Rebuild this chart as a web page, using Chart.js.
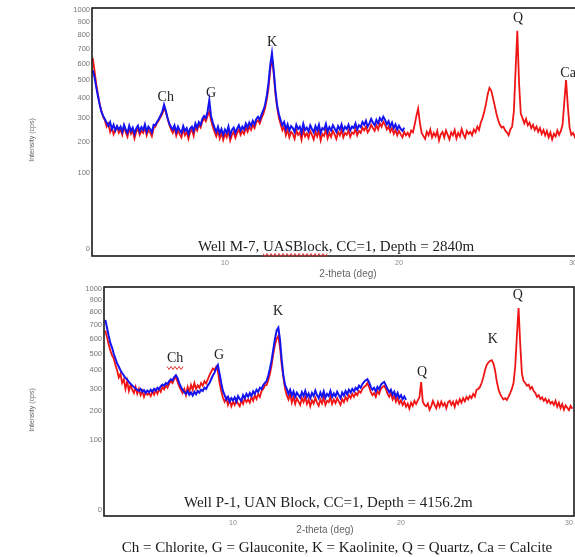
<!DOCTYPE html>
<html>
<head>
<meta charset="utf-8">
<script src="https://cdn.jsdelivr.net/npm/chart.js@4.4.1/dist/chart.umd.min.js"></script>
<style>
  html, body { margin: 0; padding: 0; background: #fff; overflow: hidden; width: 575px; height: 557px; }
  canvas { position: absolute; left: 0; }
  #top { top: 0; }
  #bottom { top: 280px; }
</style>
</head>
<body>
<canvas id="top" width="600" height="280"></canvas>
<canvas id="bottom" width="600" height="277"></canvas>
<script>
// scan grid (2-theta, deg)
const scanStart = 2.4;
const scanStep = 0.1;

const yTicks = [0, 100, 200, 300, 400, 500, 600, 700, 800, 900, 1000];
const xTicks = [10, 20, 30];

// Well M-7 : red = full scan 2.4..30.2, blue = clay fraction 2.4..20.3
const m7Red = [
  640, 560, 480, 420, 370, 335,
  305, 290, 262, 275, 240, 258, 230, 248, 262, 236,
  250, 228, 262, 238, 220, 255, 232, 246, 214, 240,
  252, 228, 244, 236, 260, 226, 248, 238, 222, 256,
  262, 278, 290, 305, 320, 345, 330, 300, 270, 250,
  236, 258, 224, 246, 230, 218, 252, 226, 240, 212,
  238, 250, 224, 262, 246, 270, 258, 284, 300, 286,
  310, 330, 290, 262, 240, 222, 246, 214, 236, 208,
  232, 218, 244, 206, 228, 240, 216, 236, 250, 228,
  244, 232, 258, 240, 262, 248, 270, 256, 282, 290,
  276, 300, 318, 345, 390, 450, 560, 640, 540, 420,
  350, 300, 272, 246, 262, 226, 250, 218, 240, 232,
  212, 246, 228, 238, 208, 250, 222, 234, 216, 244,
  228, 210, 240, 222, 246, 206, 232, 224, 250, 214,
  236, 220, 244, 230, 212, 240, 226, 248, 218, 236,
  228, 246, 220, 238, 232, 252, 226, 244, 236, 258,
  246, 262, 238, 250, 270, 256, 244, 268, 250, 276,
  262, 284, 270, 250, 262, 240, 256, 232, 248, 226,
  244, 230, 218, 240, 226, 236, 222, 246, 238, 270,
  310, 345, 280, 236, 224, 212, 240, 226, 250, 218,
  236, 222, 244, 206, 230, 240, 218, 246, 228, 210,
  238, 226, 248, 214, 236, 222, 252, 230, 216, 244,
  232, 240, 226, 250, 238, 262, 248, 280, 300, 330,
  370, 420, 455, 440, 400, 360, 320, 290, 270, 258,
  262, 246, 238, 226, 250, 262, 330, 560, 835, 480,
  320, 300, 276, 296, 268, 280, 256, 270, 248, 262,
  240, 256, 232, 248, 226, 244, 218, 238, 210, 232,
  222, 246, 228, 244, 270, 380, 500, 360, 260, 228,
  236, 220, 240
];
const m7Blue = [
  560, 520, 460, 410, 365, 330,
  310, 295, 280, 266, 282, 252, 270, 246, 264, 250,
  262, 240, 270, 250, 236, 266, 244, 258, 232, 254,
  266, 242, 260, 248, 272, 240, 262, 252, 238, 270,
  268, 284, 296, 312, 330, 365, 335, 300, 276, 260,
  250, 268, 240, 262, 246, 236, 264, 244, 256, 232,
  254, 262, 244, 276, 258, 282, 270, 296, 310, 300,
  330, 388, 310, 280, 258, 240, 262, 234, 252, 228,
  250, 236, 262, 226, 248, 258, 236, 254, 268, 246,
  262, 250, 276, 258, 280, 266, 288, 272, 296, 306,
  292, 316, 336, 362, 410, 480, 590, 672, 560, 440,
  360, 318, 290, 268, 282, 250, 272, 246, 264, 256,
  240, 270, 252, 262, 236, 274, 248, 258, 242, 268,
  252, 238, 264, 246, 270, 236, 256, 250, 274, 240,
  260, 246, 268, 254, 240, 264, 250, 272, 244, 262,
  252, 270, 246, 262, 256, 276, 250, 268, 260, 282,
  270, 288, 262, 276, 296, 280, 268, 292, 276, 300,
  288, 306, 292, 272, 286, 262, 280, 256, 272, 250,
  266, 252, 244, 258
];

// Well P-1
const p1Red = [
  660, 610, 560, 520, 490, 470,
  430, 400, 360, 380, 330, 350, 300, 340, 290, 320,
  296, 280, 310, 276, 300, 270, 290, 262, 284, 272,
  280, 266, 288, 272, 294, 276, 300, 286, 310, 298,
  318, 306, 326, 340, 330, 352, 360, 336, 312, 296,
  280, 300, 270, 310, 286, 320, 296, 330, 300, 318,
  306, 330, 316, 340, 328, 350, 372, 390, 410, 400,
  420, 395, 330, 290, 258, 240, 256, 226, 248, 220,
  240, 226, 250, 232, 220, 246, 230, 256, 238, 250,
  236, 262, 244, 270, 252, 276, 262, 290, 300, 318,
  320, 345, 380, 430, 500, 560, 600, 620, 540, 430,
  360, 300, 270, 250, 276, 236, 262, 230, 256, 240,
  226, 256, 238, 262, 230, 250, 220, 246, 232, 258,
  236, 222, 250, 232, 260, 226, 244, 238, 262, 230,
  250, 234, 256, 240, 226, 252, 238, 262, 246, 270,
  256, 276, 262, 280, 270, 290, 282, 300, 310, 316,
  330, 310, 286, 270, 280, 262, 290, 276, 300, 310,
  316, 300, 276, 262, 280, 250, 266, 240, 258, 232,
  246, 226, 240, 218, 232, 210, 236, 222, 244, 230,
  246, 260, 335, 240, 226, 220, 232, 206, 220, 244,
  226, 212, 238, 218, 240, 222, 234, 212, 238, 244,
  226, 240, 218, 244, 230, 252, 236, 256, 242, 262,
  250, 266, 256, 276, 264, 296, 300, 310, 330, 360,
  400, 430, 445, 455, 460, 440, 400, 340, 300, 276,
  262, 250, 256, 248, 262, 280, 300, 330, 420, 620,
  835, 560, 380, 340, 330, 316, 322, 300, 310, 290,
  280, 262, 270, 252, 260, 244, 254, 236, 248, 232,
  240, 226, 244, 218, 236, 212, 230, 206, 224, 214,
  204, 222, 210
];
const p1Blue = [
  740, 680, 620, 570, 540, 500,
  470, 440, 420, 400, 384, 370, 356, 348, 336, 326,
  318, 310, 302, 296, 290, 300, 286, 294, 280, 292,
  284, 296, 286, 300, 292, 306, 298, 314, 322, 316,
  330, 324, 340, 350, 344, 362, 372, 356, 330, 310,
  296, 284, 276, 290, 272, 282, 268, 286, 274, 290,
  282, 296, 290, 306, 300, 318, 330, 350, 370, 386,
  410, 430, 380, 330, 290, 270, 250, 262, 240, 256,
  246, 260, 240, 266, 252, 244, 270, 256, 276, 262,
  280, 266, 288, 276, 296, 286, 306, 300, 320, 330,
  340, 370, 410, 460, 530, 600, 660, 680, 590, 460,
  370, 320, 300, 276, 296, 268, 288, 262, 282, 270,
  258, 284, 266, 290, 262, 278, 256, 280, 266, 292,
  270, 256, 282, 262, 288, 258, 276, 266, 290, 262,
  278, 264, 286, 270, 256, 282, 268, 290, 274, 296,
  282, 300, 288, 306, 296, 316, 306, 324, 336, 344,
  350, 334, 310, 296, 306, 288, 310, 298, 320, 330,
  336, 318, 300, 284, 296, 272, 286, 262, 280, 258,
  270, 252, 264, 248
];

// peak labels: [text, 2-theta, intensity]
const m7Peaks = [['Ch', 6.6, 404], ['G', 9.2, 426], ['K', 12.7, 750], ['Q', 26.84, 934], ['Ca', 29.72, 542]];
const p1Peaks = [['Ch', 6.55, 473], ['G', 9.17, 492], ['K', 12.68, 810], ['Q', 21.25, 390], ['K', 25.47, 598], ['Q', 26.96, 946]];

const legendText = 'Ch = Chlorite, G = Glauconite, K = Kaolinite, Q = Quartz, Ca = Calcite';

// square-root intensity axis
const sgnSqrt = v => v < 0 ? -Math.sqrt(-v) : Math.sqrt(v);
class SqrtScale extends Chart.LinearScale {
  static id = 'sqrt';
  getPixelForValue(value) {
    const t0 = sgnSqrt(this.min), t1 = sgnSqrt(this.max);
    return this.getPixelForDecimal((sgnSqrt(value) - t0) / (t1 - t0));
  }
  getValueForPixel(pixel) {
    const t0 = sgnSqrt(this.min), t1 = sgnSqrt(this.max);
    const t = t0 + this.getDecimalForPixel(pixel) * (t1 - t0);
    return t < 0 ? -t * t : t * t;
  }
}
Chart.register(SqrtScale);

function toPoints(vals) {
  return vals.map((v, i) => ({ x: Math.round((scanStart + i * scanStep) * 100) / 100, y: v }));
}

const serif = '"Liberation Serif", "Times New Roman", serif';
const sans = '"Liberation Sans", Arial, sans-serif';

function squiggle(ctx, x0, x1, y) {
  ctx.save();
  ctx.strokeStyle = '#e03030';
  ctx.lineWidth = 1;
  ctx.beginPath();
  for (let x = x0, k = 0; x <= x1; x += 2, k++) {
    const yy = y + (k % 2 ? 1.5 : -1.5);
    if (k === 0) ctx.moveTo(x, yy); else ctx.lineTo(x, yy);
  }
  ctx.stroke();
  ctx.restore();
}

function makePanel(id, cfg) {
  const decor = {
    id: 'decor',
    afterDraw(chart) {
      const { ctx, chartArea: a, scales: { x, y } } = chart;
      ctx.save();
      ctx.strokeStyle = '#1a1a1a';
      ctx.lineWidth = 1.6;
      ctx.strokeRect(a.left, a.top, a.right - a.left, a.bottom - a.top);

      ctx.fillStyle = '#222';
      ctx.font = '14px ' + serif;
      ctx.textAlign = 'center';
      ctx.textBaseline = 'middle';
      cfg.peaks.forEach(p => ctx.fillText(p[0], x.getPixelForValue(p[1]), y.getPixelForValue(p[2])));
      if (cfg.chSquiggle) {
        const cx = x.getPixelForValue(cfg.peaks[0][1]);
        squiggle(ctx, cx - 8, cx + 8, y.getPixelForValue(cfg.peaks[0][2]) + 10);
      }

      // sample caption inside the plot
      ctx.font = cfg.captionFont;
      ctx.textAlign = 'left';
      ctx.textBaseline = 'alphabetic';
      ctx.fillStyle = '#222';
      ctx.fillText(cfg.caption, cfg.captionX, cfg.captionY);
      if (cfg.wavyWord) {
        const i = cfg.caption.indexOf(cfg.wavyWord);
        const w0 = ctx.measureText(cfg.caption.slice(0, i)).width;
        const w1 = ctx.measureText(cfg.wavyWord).width;
        squiggle(ctx, cfg.captionX + w0, cfg.captionX + w0 + w1, cfg.captionY + 4);
      }

      // axis titles
      ctx.fillStyle = '#666';
      ctx.font = '10px ' + sans;
      ctx.textAlign = 'center';
      ctx.fillText('2-theta (deg)', cfg.xTitleX, cfg.xTitleY);
      ctx.save();
      ctx.translate(32, cfg.yTitleY);
      ctx.rotate(-Math.PI / 2);
      ctx.font = '7px ' + sans;
      ctx.textBaseline = 'middle';
      ctx.fillText('Intensity (cps)', 0, 0);
      ctx.restore();

      if (cfg.legend) {
        ctx.fillStyle = '#1a1a1a';
        ctx.font = '15px ' + serif;
        ctx.fillText(cfg.legend, cfg.legendX, cfg.legendY);
      }
      ctx.restore();
    }
  };

  return new Chart(document.getElementById(id), {
    type: 'line',
    data: {
      datasets: [
        { data: toPoints(cfg.blue), borderColor: '#1414f0', borderWidth: 2 },
        { data: toPoints(cfg.red), borderColor: '#f01414', borderWidth: 1.8 }
      ]
    },
    options: {
      responsive: false,
      animation: false,
      events: [],
      elements: { point: { radius: 0 }, line: { tension: 0 } },
      layout: { padding: { top: cfg.padTop, right: 600 - cfg.right, left: 0, bottom: 0 } },
      plugins: { legend: { display: false }, tooltip: { enabled: false } },
      scales: {
        x: {
          type: 'linear',
          min: cfg.xMin,
          max: cfg.xMax,
          grid: { display: false, drawTicks: false },
          border: { display: false },
          afterBuildTicks: s => { s.ticks = xTicks.map(v => ({ value: v })); },
          afterFit: s => { s.height = cfg.xHeight; },
          ticks: { font: { size: 7, family: sans }, color: '#888', padding: 3, maxRotation: 0, callback: v => String(v) }
        },
        y: {
          type: 'sqrt',
          min: cfg.yMin,
          max: 1018,
          grid: { display: false, drawTicks: false },
          border: { display: false },
          afterBuildTicks: s => { s.ticks = yTicks.map(v => ({ value: v })); },
          afterFit: s => { s.width = cfg.yWidth; },
          ticks: { font: { size: 7.5, family: sans }, color: '#777', padding: 2, callback: v => String(v) }
        }
      }
    },
    plugins: [decor]
  });
}

makePanel('top', {
  red: m7Red, blue: m7Blue, peaks: m7Peaks,
  xMin: 2.36, xMax: 30.2, yMin: -0.9, right: 576.5,
  padTop: 8, yWidth: 92, xHeight: 24,
  caption: 'Well M-7, UASBlock, CC=1, Depth = 2840m', wavyWord: 'UASBlock',
  captionFont: '15px ' + serif, captionX: 198, captionY: 251,
  xTitleX: 348, xTitleY: 277, yTitleY: 140
});

makePanel('bottom', {
  red: p1Red, blue: p1Blue, peaks: p1Peaks, chSquiggle: true,
  xMin: 2.32, xMax: 30.3, yMin: -0.74, right: 574,
  padTop: 7, yWidth: 104, xHeight: 41,
  caption: 'Well P-1, UAN Block, CC=1, Depth = 4156.2m',
  captionFont: '15px ' + serif, captionX: 184, captionY: 227,
  xTitleX: 325, xTitleY: 253, yTitleY: 130,
  legend: legendText, legendX: 337, legendY: 272
});
</script>
</body>
</html>
